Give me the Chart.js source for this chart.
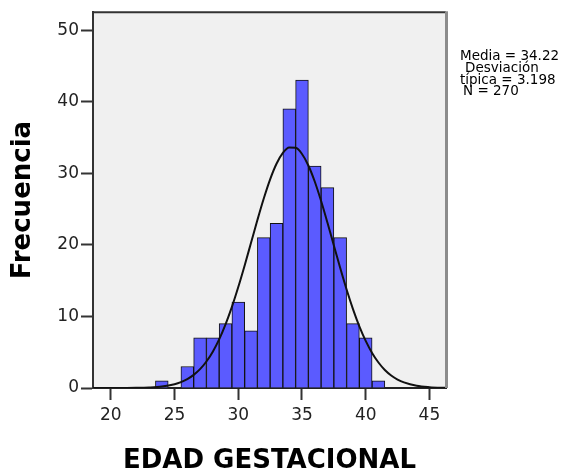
<!DOCTYPE html>
<html>
<head>
<meta charset="utf-8">
<script src="https://cdn.jsdelivr.net/npm/chart.js@4"></script>
<style>
  html, body { margin: 0; padding: 0; background: #fff; }
  #c { display: block; }
</style>
</head>
<body>
<canvas id="c" width="579" height="474"></canvas>
<script>
// Histogram bins (bin centers, years) and frequencies
const bins   = [24, 25, 26, 27, 28, 29, 30, 31, 32, 33, 34, 35, 36, 37, 38, 39, 40, 41];
const counts = [ 1,  0,  3,  7,  7,  9, 12,  8, 21, 23, 39, 43, 31, 28, 21,  9,  7,  1];

// Fitted normal curve
const curveX = [18.6, 20, 21, 22, 23, 24, 25, 25.5, 26, 26.5, 27, 27.5, 28, 28.5, 29, 29.5, 30, 30.5, 31, 31.5, 32, 32.5, 33, 33.5, 34, 34.5, 35, 35.5, 36, 36.5, 37, 37.5, 38, 38.5, 39, 39.5, 40, 40.5, 41, 41.5, 42, 42.5, 43, 44, 45, 46, 46.3];
const curveY = [0, 0.002, 0.007, 0.02, 0.07, 0.2, 0.53, 0.82, 1.24, 1.83, 2.63, 3.7, 5.08, 6.8, 8.89, 11.33, 14.1, 17.12, 20.29, 23.46, 26.47, 29.15, 31.32, 32.84, 33.6, 33.55, 32.69, 31.09, 28.85, 26.12, 23.08, 19.91, 16.75, 13.75, 11.02, 8.62, 6.58, 4.9, 3.56, 2.52, 1.75, 1.18, 0.78, 0.31, 0.12, 0.04, 0.03];

const xTicks = [20, 25, 30, 35, 40, 45];
const yTicks = [0, 10, 20, 30, 40, 50];
const xTitle = 'EDAD GESTACIONAL';
const yTitle = 'Frecuencia';
const statLines = ['Media = 34.22', 'Desviación', 'típica = 3.198', 'N = 270'];

const plotFrame = {
  id: 'plotFrame',
  beforeDraw(chart) {
    const {ctx, chartArea: a} = chart;
    ctx.save();
    ctx.fillStyle = '#f0f0f0';
    ctx.fillRect(a.left, a.top, a.right - a.left, a.bottom - a.top);
    ctx.restore();
  },
  afterDraw(chart) {
    const {ctx, chartArea: a} = chart;
    ctx.save();
    ctx.strokeStyle = '#333';
    ctx.lineWidth = 2;
    ctx.beginPath();
    ctx.moveTo(a.left, a.top);
    ctx.lineTo(a.right, a.top);
    ctx.stroke();
    ctx.strokeStyle = '#8c8c8c';
    ctx.lineWidth = 3;
    ctx.beginPath();
    ctx.moveTo(a.right + 0.5, a.top - 1);
    ctx.lineTo(a.right + 0.5, a.bottom);
    ctx.stroke();
    // statistics box text
    ctx.fillStyle = '#000';
    ctx.font = '13.5px "DejaVu Sans"';
    ctx.textBaseline = 'alphabetic';
    ctx.textAlign = 'left';
    const xs = [460, 465, 460, 463];
    const ys = [59.5, 71.5, 83.5, 95];
    statLines.forEach((t, i) => ctx.fillText(t, a.right + (xs[i] - 446), ys[i]));
    ctx.restore();
  }
};

const titleFont = {family: 'DejaVu Sans', size: 26, weight: 'bold', lineHeight: 1};
const tickFont = {family: 'DejaVu Sans', size: 17};

new Chart(document.getElementById('c'), {
  type: 'bar',
  data: {
    datasets: [
      {
        type: 'line',
        data: curveX.map((x, i) => ({x, y: curveY[i]})),
        borderColor: '#111',
        borderWidth: 2,
        pointRadius: 0,
        fill: false,
        cubicInterpolationMode: 'monotone',
        order: 0
      },
      {
        type: 'bar',
        data: bins.map((x, i) => ({x, y: counts[i]})),
        backgroundColor: '#5b5bff',
        borderColor: '#111',
        borderWidth: 1,
        barPercentage: 1,
        categoryPercentage: 1,
        order: 1
      }
    ]
  },
  options: {
    responsive: false,
    animation: false,
    devicePixelRatio: 1,
    layout: {padding: {top: 12, right: 133, left: 0, bottom: 0}},
    plugins: {legend: {display: false}, tooltip: {enabled: false}},
    scales: {
      x: {
        type: 'linear',
        min: 18.6,
        max: 46.3,
        offset: false,
        afterBuildTicks: s => { s.ticks = xTicks.map(v => ({value: v})); },
        afterFit: s => { s.height = 86; },
        ticks: {font: tickFont, color: '#222', padding: 5, maxRotation: 0, autoSkip: false},
        grid: {offset: false, drawOnChartArea: false, drawTicks: true, tickLength: 12, tickColor: '#333', tickWidth: 2},
        border: {display: true, color: '#222', width: 2},
        title: {display: true, text: xTitle, font: titleFont, color: '#000', padding: {top: 0, bottom: 0}}
      },
      y: {
        type: 'linear',
        min: 0,
        max: 52.5,
        afterBuildTicks: s => { s.ticks = yTicks.map(v => ({value: v})); },
        afterFit: s => { s.width = 93; },
        ticks: {font: tickFont, color: '#222', padding: 2, autoSkip: false},
        grid: {offset: false, drawOnChartArea: false, drawTicks: true, tickLength: 12, tickColor: '#333', tickWidth: 2},
        border: {display: true, color: '#333', width: 2},
        title: {display: true, text: yTitle, font: titleFont, color: '#000', padding: {top: 10, bottom: 0}}
      }
    }
  },
  plugins: [plotFrame]
});
</script>
</body>
</html>
